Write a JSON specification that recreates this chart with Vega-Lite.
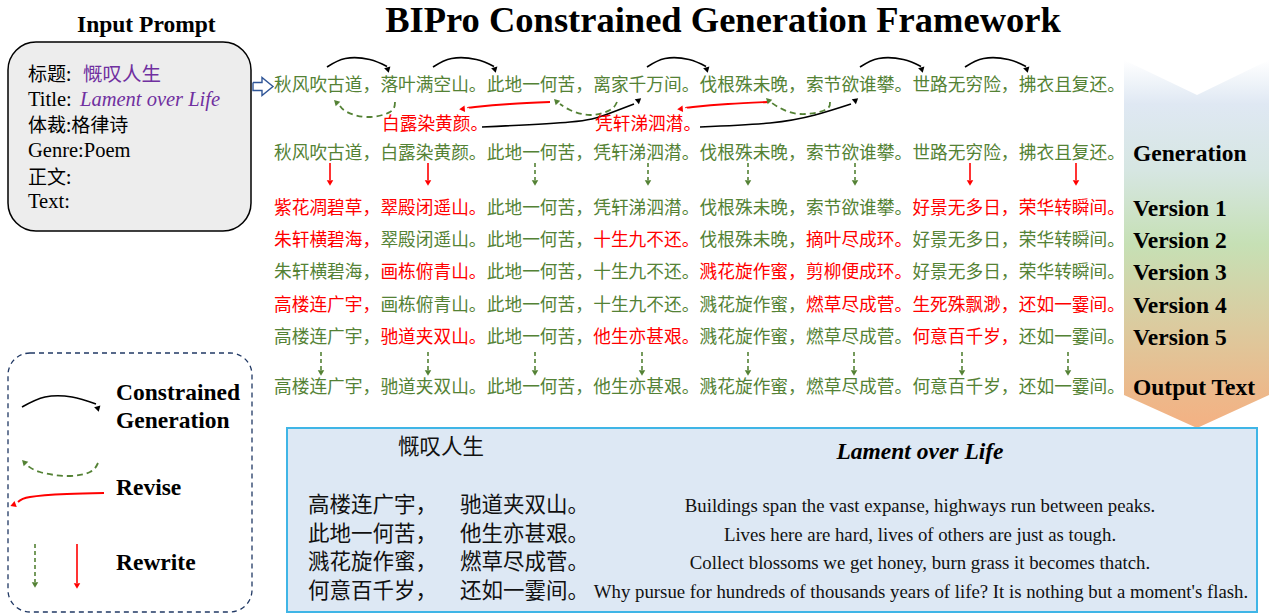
{
  "$schema": "https://vega.github.io/schema/vega-lite/v6.json",
  "width": 1279,
  "height": 614,
  "padding": 0,
  "autosize": {"type": "fit", "contains": "padding"},
  "background": "#ffffff",
  "config": {"view": {"stroke": null}},
  "resolve": {"scale": {"color": "independent"}},
  "datasets": {
    "banner": [
      {"x": 1124, "y": 60, "y2": 395},
      {"x": 1197, "y": 95, "y2": 428},
      {"x": 1269, "y": 60, "y2": 395}
    ],
    "boxes": [
      {"box": "prompt", "x": 8, "x2": 251, "y": 42, "y2": 231},
      {"box": "legend", "x": 8, "x2": 252, "y": 353, "y2": 612},
      {"box": "output", "x": 287, "x2": 1257, "y": 428, "y2": 612}
    ],
    "hollow": [
      {"i": 0, "x": 253, "y": 82.5}, {"i": 1, "x": 262, "y": 82.5}, {"i": 2, "x": 262, "y": 77.5},
      {"i": 3, "x": 273, "y": 86.5}, {"i": 4, "x": 262, "y": 95.5}, {"i": 5, "x": 262, "y": 90.5},
      {"i": 6, "x": 253, "y": 90.5}, {"i": 7, "x": 253, "y": 82.5}
    ],
    "curves": [
      {"id": "g1", "kind": "gen", "i": 0, "x": 327, "y": 67}, {"id": "g1", "kind": "gen", "i": 1, "x": 345.3, "y": 58.5}, {"id": "g1", "kind": "gen", "i": 2, "x": 369.7, "y": 59.5}, {"id": "g1", "kind": "gen", "i": 3, "x": 387, "y": 66.5},
      {"id": "g2", "kind": "gen", "i": 0, "x": 433, "y": 67}, {"id": "g2", "kind": "gen", "i": 1, "x": 451.6, "y": 58.5}, {"id": "g2", "kind": "gen", "i": 2, "x": 476.4, "y": 59.5}, {"id": "g2", "kind": "gen", "i": 3, "x": 494, "y": 66.5},
      {"id": "g3", "kind": "gen", "i": 0, "x": 647, "y": 67}, {"id": "g3", "kind": "gen", "i": 1, "x": 665, "y": 58.5}, {"id": "g3", "kind": "gen", "i": 2, "x": 689, "y": 59.5}, {"id": "g3", "kind": "gen", "i": 3, "x": 706, "y": 66.5},
      {"id": "g4", "kind": "gen", "i": 0, "x": 860, "y": 67}, {"id": "g4", "kind": "gen", "i": 1, "x": 878.6, "y": 58.5}, {"id": "g4", "kind": "gen", "i": 2, "x": 903.4, "y": 59.5}, {"id": "g4", "kind": "gen", "i": 3, "x": 921, "y": 66.5},
      {"id": "g5", "kind": "gen", "i": 0, "x": 965, "y": 67}, {"id": "g5", "kind": "gen", "i": 1, "x": 983.6, "y": 58.5}, {"id": "g5", "kind": "gen", "i": 2, "x": 1008.4, "y": 59.5}, {"id": "g5", "kind": "gen", "i": 3, "x": 1026, "y": 66.5},
      {"id": "l1", "kind": "gen", "i": 0, "x": 482, "y": 127}, {"id": "l1", "kind": "gen", "i": 1, "x": 570, "y": 122}, {"id": "l1", "kind": "gen", "i": 2, "x": 605, "y": 115}, {"id": "l1", "kind": "gen", "i": 3, "x": 634, "y": 104},
      {"id": "l2", "kind": "gen", "i": 0, "x": 700, "y": 127}, {"id": "l2", "kind": "gen", "i": 1, "x": 770, "y": 123}, {"id": "l2", "kind": "gen", "i": 2, "x": 815, "y": 115}, {"id": "l2", "kind": "gen", "i": 3, "x": 851, "y": 104},
      {"id": "lg", "kind": "gen", "i": 0, "x": 22, "y": 407}, {"id": "lg", "kind": "gen", "i": 1, "x": 45, "y": 397}, {"id": "lg", "kind": "gen", "i": 2, "x": 72, "y": 397}, {"id": "lg", "kind": "gen", "i": 3, "x": 96, "y": 404},
      {"id": "r1", "kind": "revise", "i": 0, "x": 395, "y": 102}, {"id": "r1", "kind": "revise", "i": 1, "x": 390, "y": 112}, {"id": "r1", "kind": "revise", "i": 2, "x": 367, "y": 117}, {"id": "r1", "kind": "revise", "i": 3, "x": 347, "y": 112}, {"id": "r1", "kind": "revise", "i": 4, "x": 340, "y": 106},
      {"id": "r2", "kind": "revise", "i": 0, "x": 617, "y": 102}, {"id": "r2", "kind": "revise", "i": 1, "x": 610, "y": 110}, {"id": "r2", "kind": "revise", "i": 2, "x": 590, "y": 115}, {"id": "r2", "kind": "revise", "i": 3, "x": 570, "y": 110}, {"id": "r2", "kind": "revise", "i": 4, "x": 560, "y": 104},
      {"id": "r3", "kind": "revise", "i": 0, "x": 830, "y": 102}, {"id": "r3", "kind": "revise", "i": 1, "x": 825, "y": 110}, {"id": "r3", "kind": "revise", "i": 2, "x": 800, "y": 114}, {"id": "r3", "kind": "revise", "i": 3, "x": 780, "y": 108}, {"id": "r3", "kind": "revise", "i": 4, "x": 772, "y": 103},
      {"id": "lr", "kind": "revise", "i": 0, "x": 98, "y": 463}, {"id": "lr", "kind": "revise", "i": 1, "x": 90, "y": 472}, {"id": "lr", "kind": "revise", "i": 2, "x": 67, "y": 476}, {"id": "lr", "kind": "revise", "i": 3, "x": 40, "y": 472}, {"id": "lr", "kind": "revise", "i": 4, "x": 28, "y": 466},
      {"id": "f1", "kind": "fix", "i": 0, "x": 550, "y": 102}, {"id": "f1", "kind": "fix", "i": 1, "x": 510, "y": 104}, {"id": "f1", "kind": "fix", "i": 2, "x": 475, "y": 107}, {"id": "f1", "kind": "fix", "i": 3, "x": 468, "y": 108},
      {"id": "f2", "kind": "fix", "i": 0, "x": 768, "y": 102}, {"id": "f2", "kind": "fix", "i": 1, "x": 728, "y": 104}, {"id": "f2", "kind": "fix", "i": 2, "x": 693, "y": 107}, {"id": "f2", "kind": "fix", "i": 3, "x": 686, "y": 108},
      {"id": "lf", "kind": "fix", "i": 0, "x": 104, "y": 493}, {"id": "lf", "kind": "fix", "i": 1, "x": 67, "y": 494}, {"id": "lf", "kind": "fix", "i": 2, "x": 30, "y": 497}, {"id": "lf", "kind": "fix", "i": 3, "x": 18, "y": 502}
    ],
    "heads": [
      {"kind": "gen", "x": 388, "y": 70, "angle": 165},
      {"kind": "gen", "x": 495, "y": 70, "angle": 165},
      {"kind": "gen", "x": 707, "y": 70, "angle": 165},
      {"kind": "gen", "x": 922, "y": 70, "angle": 165},
      {"kind": "gen", "x": 1027, "y": 70, "angle": 165},
      {"kind": "gen", "x": 639, "y": 100, "angle": 50},
      {"kind": "gen", "x": 856, "y": 100, "angle": 50},
      {"kind": "gen", "x": 98, "y": 409, "angle": 165},
      {"kind": "revise", "x": 336, "y": 102, "angle": 315},
      {"kind": "revise", "x": 556, "y": 101, "angle": 315},
      {"kind": "revise", "x": 768, "y": 100, "angle": 315},
      {"kind": "revise", "x": 24, "y": 462, "angle": 315},
      {"kind": "fix", "x": 462, "y": 109, "angle": 265},
      {"kind": "fix", "x": 680, "y": 109, "angle": 265},
      {"kind": "fix", "x": 13, "y": 505, "angle": 250},
      {"kind": "fix", "x": 330, "y": 183, "angle": 180},
      {"kind": "fix", "x": 428, "y": 183, "angle": 180},
      {"kind": "fix", "x": 970, "y": 183, "angle": 180},
      {"kind": "fix", "x": 1076, "y": 183, "angle": 180},
      {"kind": "revise", "x": 535, "y": 183, "angle": 180},
      {"kind": "revise", "x": 648, "y": 183, "angle": 180},
      {"kind": "revise", "x": 748, "y": 183, "angle": 180},
      {"kind": "revise", "x": 855, "y": 183, "angle": 180},
      {"kind": "revise", "x": 321, "y": 373, "angle": 180},
      {"kind": "revise", "x": 428, "y": 373, "angle": 180},
      {"kind": "revise", "x": 535, "y": 373, "angle": 180},
      {"kind": "revise", "x": 642, "y": 373, "angle": 180},
      {"kind": "revise", "x": 748, "y": 373, "angle": 180},
      {"kind": "revise", "x": 854, "y": 373, "angle": 180},
      {"kind": "revise", "x": 962, "y": 373, "angle": 180},
      {"kind": "revise", "x": 1068, "y": 373, "angle": 180},
      {"kind": "revise", "x": 35, "y": 585, "angle": 180},
      {"kind": "fix", "x": 77, "y": 586, "angle": 180}
    ],
    "stems": [
      {"kind": "fix", "x": 330, "y": 163, "y2": 180},
      {"kind": "fix", "x": 428, "y": 163, "y2": 180},
      {"kind": "fix", "x": 970, "y": 163, "y2": 180},
      {"kind": "fix", "x": 1076, "y": 163, "y2": 180},
      {"kind": "revise", "x": 535, "y": 163, "y2": 180},
      {"kind": "revise", "x": 648, "y": 163, "y2": 180},
      {"kind": "revise", "x": 748, "y": 163, "y2": 180},
      {"kind": "revise", "x": 855, "y": 163, "y2": 180},
      {"kind": "revise", "x": 321, "y": 352, "y2": 370},
      {"kind": "revise", "x": 428, "y": 352, "y2": 370},
      {"kind": "revise", "x": 535, "y": 352, "y2": 370},
      {"kind": "revise", "x": 642, "y": 352, "y2": 370},
      {"kind": "revise", "x": 748, "y": 352, "y2": 370},
      {"kind": "revise", "x": 854, "y": 352, "y2": 370},
      {"kind": "revise", "x": 962, "y": 352, "y2": 370},
      {"kind": "revise", "x": 1068, "y": 352, "y2": 370},
      {"kind": "revise", "x": 35, "y": 544, "y2": 582},
      {"kind": "fix", "x": 77, "y": 544, "y2": 583}
    ],
    "poem": [
      {"x": 274, "y": 86, "text": "秋风吹古道，", "kind": "keep"},
      {"x": 380.4, "y": 86, "text": "落叶满空山。", "kind": "keep"},
      {"x": 486.8, "y": 86, "text": "此地一何苦，", "kind": "keep"},
      {"x": 593.2, "y": 86, "text": "离家千万间。", "kind": "keep"},
      {"x": 699.6, "y": 86, "text": "伐根殊未晚，", "kind": "keep"},
      {"x": 806, "y": 86, "text": "索节欲谁攀。", "kind": "keep"},
      {"x": 912.4, "y": 86, "text": "世路无穷险，", "kind": "keep"},
      {"x": 1018.8, "y": 86, "text": "拂衣且复还。", "kind": "keep"},
      {"x": 382, "y": 125, "text": "白露染黄颜。", "kind": "new"},
      {"x": 595, "y": 125, "text": "凭轩涕泗潸。", "kind": "new"},
      {"x": 274, "y": 154, "text": "秋风吹古道，", "kind": "keep"},
      {"x": 380.4, "y": 154, "text": "白露染黄颜。", "kind": "keep"},
      {"x": 486.8, "y": 154, "text": "此地一何苦，", "kind": "keep"},
      {"x": 593.2, "y": 154, "text": "凭轩涕泗潸。", "kind": "keep"},
      {"x": 699.6, "y": 154, "text": "伐根殊未晚，", "kind": "keep"},
      {"x": 806, "y": 154, "text": "索节欲谁攀。", "kind": "keep"},
      {"x": 912.4, "y": 154, "text": "世路无穷险，", "kind": "keep"},
      {"x": 1018.8, "y": 154, "text": "拂衣且复还。", "kind": "keep"},
      {"x": 274, "y": 209, "text": "紫花凋碧草，", "kind": "new"},
      {"x": 380.4, "y": 209, "text": "翠殿闭遥山。", "kind": "new"},
      {"x": 486.8, "y": 209, "text": "此地一何苦，", "kind": "keep"},
      {"x": 593.2, "y": 209, "text": "凭轩涕泗潸。", "kind": "keep"},
      {"x": 699.6, "y": 209, "text": "伐根殊未晚，", "kind": "keep"},
      {"x": 806, "y": 209, "text": "索节欲谁攀。", "kind": "keep"},
      {"x": 912.4, "y": 209, "text": "好景无多日，", "kind": "new"},
      {"x": 1018.8, "y": 209, "text": "荣华转瞬间。", "kind": "new"},
      {"x": 274, "y": 241, "text": "朱轩横碧海，", "kind": "new"},
      {"x": 380.4, "y": 241, "text": "翠殿闭遥山。", "kind": "keep"},
      {"x": 486.8, "y": 241, "text": "此地一何苦，", "kind": "keep"},
      {"x": 593.2, "y": 241, "text": "十生九不还。", "kind": "new"},
      {"x": 699.6, "y": 241, "text": "伐根殊未晚，", "kind": "keep"},
      {"x": 806, "y": 241, "text": "摘叶尽成环。", "kind": "new"},
      {"x": 912.4, "y": 241, "text": "好景无多日，", "kind": "keep"},
      {"x": 1018.8, "y": 241, "text": "荣华转瞬间。", "kind": "keep"},
      {"x": 274, "y": 273, "text": "朱轩横碧海，", "kind": "keep"},
      {"x": 380.4, "y": 273, "text": "画栋俯青山。", "kind": "new"},
      {"x": 486.8, "y": 273, "text": "此地一何苦，", "kind": "keep"},
      {"x": 593.2, "y": 273, "text": "十生九不还。", "kind": "keep"},
      {"x": 699.6, "y": 273, "text": "溅花旋作蜜，", "kind": "new"},
      {"x": 806, "y": 273, "text": "剪柳便成环。", "kind": "new"},
      {"x": 912.4, "y": 273, "text": "好景无多日，", "kind": "keep"},
      {"x": 1018.8, "y": 273, "text": "荣华转瞬间。", "kind": "keep"},
      {"x": 274, "y": 306, "text": "高楼连广宇，", "kind": "new"},
      {"x": 380.4, "y": 306, "text": "画栋俯青山。", "kind": "keep"},
      {"x": 486.8, "y": 306, "text": "此地一何苦，", "kind": "keep"},
      {"x": 593.2, "y": 306, "text": "十生九不还。", "kind": "keep"},
      {"x": 699.6, "y": 306, "text": "溅花旋作蜜，", "kind": "keep"},
      {"x": 806, "y": 306, "text": "燃草尽成菅。", "kind": "new"},
      {"x": 912.4, "y": 306, "text": "生死殊飘渺，", "kind": "new"},
      {"x": 1018.8, "y": 306, "text": "还如一霎间。", "kind": "new"},
      {"x": 274, "y": 338, "text": "高楼连广宇，", "kind": "keep"},
      {"x": 380.4, "y": 338, "text": "驰道夹双山。", "kind": "new"},
      {"x": 486.8, "y": 338, "text": "此地一何苦，", "kind": "keep"},
      {"x": 593.2, "y": 338, "text": "他生亦甚艰。", "kind": "new"},
      {"x": 699.6, "y": 338, "text": "溅花旋作蜜，", "kind": "keep"},
      {"x": 806, "y": 338, "text": "燃草尽成菅。", "kind": "keep"},
      {"x": 912.4, "y": 338, "text": "何意百千岁，", "kind": "new"},
      {"x": 1018.8, "y": 338, "text": "还如一霎间。", "kind": "keep"},
      {"x": 274, "y": 388, "text": "高楼连广宇，", "kind": "keep"},
      {"x": 380.4, "y": 388, "text": "驰道夹双山。", "kind": "keep"},
      {"x": 486.8, "y": 388, "text": "此地一何苦，", "kind": "keep"},
      {"x": 593.2, "y": 388, "text": "他生亦甚艰。", "kind": "keep"},
      {"x": 699.6, "y": 388, "text": "溅花旋作蜜，", "kind": "keep"},
      {"x": 806, "y": 388, "text": "燃草尽成菅。", "kind": "keep"},
      {"x": 912.4, "y": 388, "text": "何意百千岁，", "kind": "keep"},
      {"x": 1018.8, "y": 388, "text": "还如一霎间。", "kind": "keep"}
    ],
    "boldLabels": [
      {"x": 77, "y": 25, "text": "Input Prompt"},
      {"x": 1133, "y": 154, "text": "Generation"},
      {"x": 1133, "y": 209, "text": "Version 1"},
      {"x": 1133, "y": 241, "text": "Version 2"},
      {"x": 1133, "y": 273, "text": "Version 3"},
      {"x": 1133, "y": 306, "text": "Version 4"},
      {"x": 1133, "y": 338, "text": "Version 5"},
      {"x": 1133, "y": 388, "text": "Output Text"},
      {"x": 116, "y": 393, "text": "Constrained"},
      {"x": 116, "y": 421, "text": "Generation"},
      {"x": 116, "y": 488, "text": "Revise"},
      {"x": 116, "y": 563, "text": "Rewrite"}
    ],
    "promptLatin": [
      {"x": 28, "y": 100, "text": "Title:"},
      {"x": 28, "y": 151, "text": "Genre:Poem"},
      {"x": 28, "y": 202, "text": "Text:"}
    ],
    "promptCJK": [
      {"x": 28, "y": 75, "text": "标题:"},
      {"x": 28, "y": 126, "text": "体裁:格律诗"},
      {"x": 28, "y": 177.5, "text": "正文:"}
    ],
    "outCJK": [
      {"x": 398, "y": 448, "text": "慨叹人生"},
      {"x": 308, "y": 505.5, "text": "高楼连广宇，"},
      {"x": 460, "y": 505.5, "text": "驰道夹双山。"},
      {"x": 308, "y": 534.5, "text": "此地一何苦，"},
      {"x": 460, "y": 534.5, "text": "他生亦甚艰。"},
      {"x": 308, "y": 563, "text": "溅花旋作蜜，"},
      {"x": 460, "y": 563, "text": "燃草尽成菅。"},
      {"x": 308, "y": 591.5, "text": "何意百千岁，"},
      {"x": 460, "y": 591.5, "text": "还如一霎间。"}
    ],
    "outEN": [
      {"x": 920, "y": 505.5, "text": "Buildings span the vast expanse, highways run between peaks."},
      {"x": 920, "y": 534.5, "text": "Lives here are hard, lives of others are just as tough."},
      {"x": 920, "y": 563, "text": "Collect blossoms we get honey, burn grass it becomes thatch."},
      {"x": 921, "y": 591.5, "text": "Why pursue for hundreds of thousands years of life? It is nothing but a moment's flash."}
    ]
  },
  "encoding": {
    "x": {"field": "x", "type": "quantitative", "scale": {"domain": [0, 1279], "nice": false, "zero": false}, "axis": null},
    "y": {"field": "y", "type": "quantitative", "scale": {"domain": [0, 614], "nice": false, "zero": false, "reverse": true}, "axis": null}
  },
  "layer": [
    {
      "data": {"name": "banner"},
      "mark": {
        "type": "area",
        "interpolate": "linear",
        "fill": {
          "gradient": "linear", "x1": 0, "y1": 0, "x2": 0, "y2": 1,
          "stops": [
            {"offset": 0, "color": "#ffffff"},
            {"offset": 0.12, "color": "#dfe8f3"},
            {"offset": 0.3, "color": "#d6e6e2"},
            {"offset": 0.5, "color": "#c6e0b5"},
            {"offset": 0.72, "color": "#dbcb9f"},
            {"offset": 0.9, "color": "#ecb98b"},
            {"offset": 1, "color": "#f4b183"}
          ]
        }
      },
      "encoding": {"y2": {"field": "y2"}}
    },
    {
      "data": {"name": "boxes"},
      "transform": [{"filter": "datum.box == 'prompt'"}],
      "mark": {"type": "rect", "fill": "#ededed", "stroke": "#000000", "strokeWidth": 1.5, "cornerRadius": 28},
      "encoding": {"x2": {"field": "x2"}, "y2": {"field": "y2"}}
    },
    {
      "data": {"name": "boxes"},
      "transform": [{"filter": "datum.box == 'legend'"}],
      "mark": {"type": "rect", "fill": null, "fillOpacity": 0, "stroke": "#203864", "strokeWidth": 1.3, "strokeDash": [5, 4], "cornerRadius": 22},
      "encoding": {"x2": {"field": "x2"}, "y2": {"field": "y2"}}
    },
    {
      "data": {"name": "boxes"},
      "transform": [{"filter": "datum.box == 'output'"}],
      "mark": {"type": "rect", "fill": "#dde8f4", "stroke": "#3fb5e6", "strokeWidth": 2},
      "encoding": {"x2": {"field": "x2"}, "y2": {"field": "y2"}}
    },
    {
      "data": {"name": "hollow"},
      "mark": {"type": "line", "stroke": "#2f5597", "strokeWidth": 1.4},
      "encoding": {"order": {"field": "i", "type": "quantitative"}}
    },
    {
      "data": {"name": "curves"},
      "transform": [{"filter": "datum.kind == 'gen'"}],
      "mark": {"type": "line", "interpolate": "natural", "stroke": "#000000", "strokeWidth": 1.6},
      "encoding": {"detail": {"field": "id"}, "order": {"field": "i", "type": "quantitative"}}
    },
    {
      "data": {"name": "curves"},
      "transform": [{"filter": "datum.kind == 'revise'"}],
      "mark": {"type": "line", "interpolate": "natural", "stroke": "#548235", "strokeWidth": 1.8, "strokeDash": [6, 4]},
      "encoding": {"detail": {"field": "id"}, "order": {"field": "i", "type": "quantitative"}}
    },
    {
      "data": {"name": "curves"},
      "transform": [{"filter": "datum.kind == 'fix'"}],
      "mark": {"type": "line", "interpolate": "natural", "stroke": "#ff0000", "strokeWidth": 1.8},
      "encoding": {"detail": {"field": "id"}, "order": {"field": "i", "type": "quantitative"}}
    },
    {
      "data": {"name": "stems"},
      "transform": [{"filter": "datum.kind == 'revise'"}],
      "mark": {"type": "rule", "stroke": "#548235", "strokeWidth": 1.6, "strokeDash": [4, 3]},
      "encoding": {"y2": {"field": "y2"}}
    },
    {
      "data": {"name": "stems"},
      "transform": [{"filter": "datum.kind == 'fix'"}],
      "mark": {"type": "rule", "stroke": "#ff0000", "strokeWidth": 1.6},
      "encoding": {"y2": {"field": "y2"}}
    },
    {
      "data": {"name": "heads"},
      "mark": {"type": "point", "shape": "triangle-up", "filled": true, "size": 42, "opacity": 1, "strokeWidth": 0},
      "encoding": {
        "angle": {"field": "angle", "type": "quantitative", "scale": null},
        "color": {"field": "kind", "type": "nominal", "scale": {"domain": ["gen", "revise", "fix"], "range": ["#000000", "#548235", "#ff0000"]}, "legend": null}
      }
    },
    {
      "data": {"name": "poem"},
      "mark": {"type": "text", "align": "left", "baseline": "middle", "font": "Noto Sans CJK SC", "fontSize": 17.7},
      "encoding": {
        "text": {"field": "text"},
        "color": {"field": "kind", "type": "nominal", "scale": {"domain": ["keep", "new"], "range": ["#548235", "#ff0000"]}, "legend": null}
      }
    },
    {
      "data": {"values": [{"x": 723, "y": 21, "text": "BIPro Constrained Generation Framework"}]},
      "mark": {"type": "text", "align": "center", "baseline": "middle", "font": "Liberation Serif", "fontWeight": "bold", "fontSize": 36.5, "color": "#000000"},
      "encoding": {"text": {"field": "text"}}
    },
    {
      "data": {"name": "boldLabels"},
      "mark": {"type": "text", "align": "left", "baseline": "middle", "font": "Liberation Serif", "fontWeight": "bold", "fontSize": 23.5, "color": "#000000"},
      "encoding": {"text": {"field": "text"}}
    },
    {
      "data": {"name": "promptLatin"},
      "mark": {"type": "text", "align": "left", "baseline": "middle", "font": "Liberation Serif", "fontSize": 20.5, "color": "#000000"},
      "encoding": {"text": {"field": "text"}}
    },
    {
      "data": {"name": "promptCJK"},
      "mark": {"type": "text", "align": "left", "baseline": "middle", "font": "Noto Sans CJK SC", "fontSize": 19, "color": "#000000"},
      "encoding": {"text": {"field": "text"}}
    },
    {
      "data": {"values": [{"x": 83, "y": 75, "text": "慨叹人生"}]},
      "mark": {"type": "text", "align": "left", "baseline": "middle", "font": "Noto Sans CJK SC", "fontSize": 19.5, "color": "#7030a0"},
      "encoding": {"text": {"field": "text"}}
    },
    {
      "data": {"values": [{"x": 80, "y": 100, "text": "Lament over Life"}]},
      "mark": {"type": "text", "align": "left", "baseline": "middle", "font": "Liberation Serif", "fontStyle": "italic", "fontSize": 20.5, "color": "#7030a0"},
      "encoding": {"text": {"field": "text"}}
    },
    {
      "data": {"name": "outCJK"},
      "mark": {"type": "text", "align": "left", "baseline": "middle", "font": "Noto Sans CJK SC", "fontSize": 21.5, "color": "#111111"},
      "encoding": {"text": {"field": "text"}}
    },
    {
      "data": {"values": [{"x": 920, "y": 452, "text": "Lament over Life"}]},
      "mark": {"type": "text", "align": "center", "baseline": "middle", "font": "Liberation Serif", "fontWeight": "bold", "fontStyle": "italic", "fontSize": 23.5, "color": "#000000"},
      "encoding": {"text": {"field": "text"}}
    },
    {
      "data": {"name": "outEN"},
      "mark": {"type": "text", "align": "center", "baseline": "middle", "font": "Liberation Serif", "fontSize": 18.8, "color": "#111111"},
      "encoding": {"text": {"field": "text"}}
    }
  ]
}
